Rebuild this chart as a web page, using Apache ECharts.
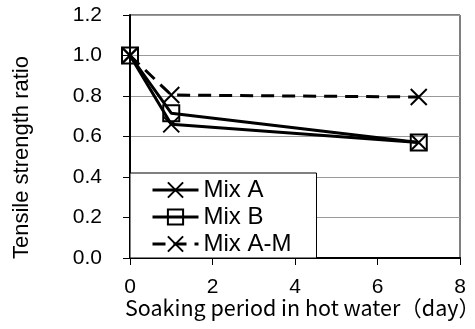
<!DOCTYPE html>
<html>
<head>
<meta charset="utf-8">
<script src="https://cdn.jsdelivr.net/npm/echarts@6/dist/echarts.min.js"></script>
<style>
  html, body { margin: 0; padding: 0; background: #fff; }
  #chart { width: 475px; height: 329px; }
</style>
</head>
<body>
<div id="chart"></div>
<script>
// soaking days
var days = [0, 1, 7];
// tensile strength ratio per mix
var mixA = [1.0, 0.66, 0.57];
var mixB = [1.0, 0.715, 0.57];
var mixAM = [1.0, 0.805, 0.795];
var names = ['Mix A', 'Mix B', 'Mix A-M'];

var crossPath = 'path://M0,0L10,10M0,10L10,0';

function pairs(xs, ys) {
    return xs.map(function(x, i) { return [x, ys[i]]; });
}

function makeSeries(name, vals, symbol, dashed) {
    return {
        name: name,
        type: 'line',
        data: pairs(days, vals),
        symbol: symbol,
        symbolSize: 16,
        showAllSymbol: true,
        lineStyle: { color: '#000', width: 3, type: dashed ? [13, 8] : 'solid' },
        itemStyle: { color: 'transparent', borderColor: '#000', borderWidth: 2 },
        emphasis: { disabled: true }
    };
}

var chart = echarts.init(document.getElementById('chart'));
chart.setOption({
    animation: false,
    textStyle: { fontFamily: 'Liberation Sans' },
    grid: { left: 130, right: 15, top: 15, bottom: 71, show: true, borderColor: '#000', borderWidth: 1 },
    legend: {
        orient: 'vertical',
        left: 130, top: 173,
        padding: [5, 25, 2, 21],
        itemGap: 3,
        itemWidth: 46,
        itemHeight: 19,
        backgroundColor: '#fff',
        borderColor: '#000',
        borderWidth: 1,
        borderRadius: 0,
        lineStyle: { width: 3 },
        itemStyle: { borderWidth: 2 },
        textStyle: { fontSize: 24, color: '#000', lineHeight: 24 },
        data: names
    },
    xAxis: {
        type: 'value', min: 0, max: 8, interval: 2,
        axisLine: { lineStyle: { color: '#000', width: 2 } },
        axisTick: { show: true, length: 7, lineStyle: { color: '#000', width: 1 } },
        splitLine: { show: false },
        axisLabel: { fontSize: 21, color: '#000', margin: 19 }
    },
    yAxis: {
        type: 'value', min: 0, max: 1.2, interval: 0.2,
        axisLine: { show: true, lineStyle: { color: '#000', width: 2 } },
        axisTick: { show: true, length: 7, lineStyle: { color: '#000', width: 1 } },
        splitLine: { lineStyle: { color: '#999', width: 1 } },
        axisLabel: { fontSize: 21, color: '#000', margin: 28, formatter: function(v) { return v.toFixed(1); } }
    },
    graphic: [
        {
            type: 'text', left: 125, top: 297,
            style: { text: 'Soaking period in hot water（day）', font: '21.5px "Noto Sans CJK JP"', fill: '#000' }
        },
        {
            type: 'text', x: 11, y: 259, rotation: Math.PI / 2,
            style: { text: 'Tensile strength ratio', font: '22px "Liberation Sans"', fill: '#000' }
        }
    ],
    series: [
        makeSeries(names[0], mixA, crossPath, false),
        makeSeries(names[1], mixB, 'rect', false),
        makeSeries(names[2], mixAM, crossPath, true)
    ]
});
</script>
</body>
</html>
